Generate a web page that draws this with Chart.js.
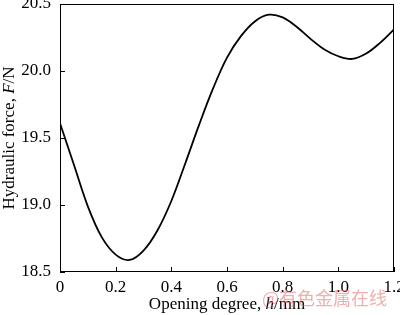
<!DOCTYPE html>
<html>
<head>
<meta charset="utf-8">
<script src="https://cdn.jsdelivr.net/npm/chart.js@4/dist/chart.umd.min.js"></script>
<style>
  html, body { margin: 0; padding: 0; background: #fff; }
  #wrap { width: 400px; height: 315px; }
</style>
</head>
<body>
<div id="wrap"><canvas id="forceChart" width="400" height="315"></canvas></div>
<script>
// opening degree h (mm) and hydraulic force F (N)
const opening = [0, 0.05, 0.1, 0.15, 0.2, 0.25, 0.3, 0.35, 0.4, 0.45, 0.5, 0.55, 0.6,
  0.65, 0.7, 0.75, 0.8, 0.85, 0.9, 0.95, 1.0, 1.05, 1.1, 1.15, 1.2];
const force = [19.61, 19.30, 18.99, 18.76, 18.63, 18.59, 18.66, 18.81, 19.03, 19.31, 19.60,
  19.87, 20.10, 20.26, 20.37, 20.42, 20.40, 20.33, 20.24, 20.16, 20.11, 20.09, 20.13, 20.21, 20.31];

const xTicks = [0, 0.2, 0.4, 0.6, 0.8, 1.0, 1.2];
const yTicks = [18.5, 19.0, 19.5, 20.0, 20.5];

const FONT = "Liberation Serif";

// draws the frame, inward ticks, axis titles (with italic symbols) and watermark
const framePlugin = {
  id: "frame",
  afterDraw(chart) {
    const ctx = chart.ctx;
    const a = chart.chartArea;
    const xs = chart.scales.x;
    const ys = chart.scales.y;
    ctx.save();
    ctx.strokeStyle = "#000";
    ctx.lineWidth = 1;
    ctx.strokeRect(a.left + 0.5, a.top + 0.5, a.right - a.left - 1, a.bottom - a.top - 1);

    ctx.beginPath();
    xTicks.forEach(v => {
      const px = Math.round(xs.getPixelForValue(v)) + 0.5;
      ctx.moveTo(px, a.bottom);
      ctx.lineTo(px, a.bottom - 5);
    });
    yTicks.forEach(v => {
      const py = Math.round(ys.getPixelForValue(v)) + 0.5;
      ctx.moveTo(a.left, py);
      ctx.lineTo(a.left + 5, py);
    });
    ctx.stroke();

    ctx.fillStyle = "#000";
    ctx.textBaseline = "alphabetic";

    // x title: Opening degree, h/mm
    const xParts = [["Opening degree, ", false], ["h", true], ["/mm", false]];
    drawParts(ctx, xParts, (a.left + a.right) / 2, 309);

    // y title: Hydraulic force, F/N
    ctx.save();
    ctx.translate(14, (a.top + a.bottom) / 2);
    ctx.rotate(-Math.PI / 2);
    const yParts = [["Hydraulic force, ", false], ["F", true], ["/N", false]];
    drawParts(ctx, yParts, 0, 0);
    ctx.restore();

    // watermark
    ctx.font = "18px 'Noto Sans CJK SC'";
    ctx.fillStyle = "rgba(226, 110, 110, 0.55)";
    ctx.textAlign = "left";
    ctx.fillText("@有色金属在线", 262, 305);
    ctx.restore();
  }
};

function drawParts(ctx, parts, cx, y) {
  const fonts = parts.map(p => (p[1] ? "italic " : "") + "17px '" + FONT + "'");
  let total = 0;
  const widths = parts.map((p, i) => {
    ctx.font = fonts[i];
    const w = ctx.measureText(p[0]).width;
    total += w;
    return w;
  });
  let x = cx - total / 2;
  ctx.textAlign = "left";
  parts.forEach((p, i) => {
    ctx.font = fonts[i];
    ctx.fillText(p[0], x, y);
    x += widths[i];
  });
}

const points = opening.map((h, i) => ({ x: h, y: force[i] }));

new Chart(document.getElementById("forceChart"), {
  type: "line",
  data: {
    datasets: [
      {
        label: "Hydraulic force",
        data: points,
        borderColor: "#000",
        borderWidth: 1.8,
        pointRadius: 0,
        tension: 0.35,
        fill: false,
      },
    ],
  },
  options: {
    responsive: false,
    animation: false,
    events: [],
    layout: { padding: { top: 4, right: 6, left: 0, bottom: 0 } },
    plugins: {
      legend: { display: false },
      tooltip: { enabled: false },
    },
    scales: {
      x: {
        type: "linear",
        min: 0,
        max: 1.2,
        afterBuildTicks(scale) {
          scale.ticks = xTicks.map(v => ({ value: v }));
        },
        afterFit(scale) {
          scale.height = 43;
          scale.paddingLeft = 0;
          scale.paddingRight = 0;
        },
        grid: { display: false, drawTicks: false },
        border: { display: false },
        ticks: {
          color: "#000",
          padding: 5,
          maxRotation: 0,
          font: { family: FONT, size: 17 },
          callback: v => (v === 0 ? "0" : v.toFixed(1)),
        },
      },
      y: {
        min: 18.5,
        max: 20.5,
        afterBuildTicks(scale) {
          scale.ticks = yTicks.map(v => ({ value: v }));
        },
        afterFit(scale) {
          scale.width = 60;
          scale.paddingTop = 0;
          scale.paddingBottom = 0;
        },
        grid: { display: false, drawTicks: false },
        border: { display: false },
        ticks: {
          color: "#000",
          padding: 9,
          font: { family: FONT, size: 17 },
          callback: v => v.toFixed(1),
        },
      },
    },
  },
  plugins: [framePlugin],
});
</script>
</body>
</html>
